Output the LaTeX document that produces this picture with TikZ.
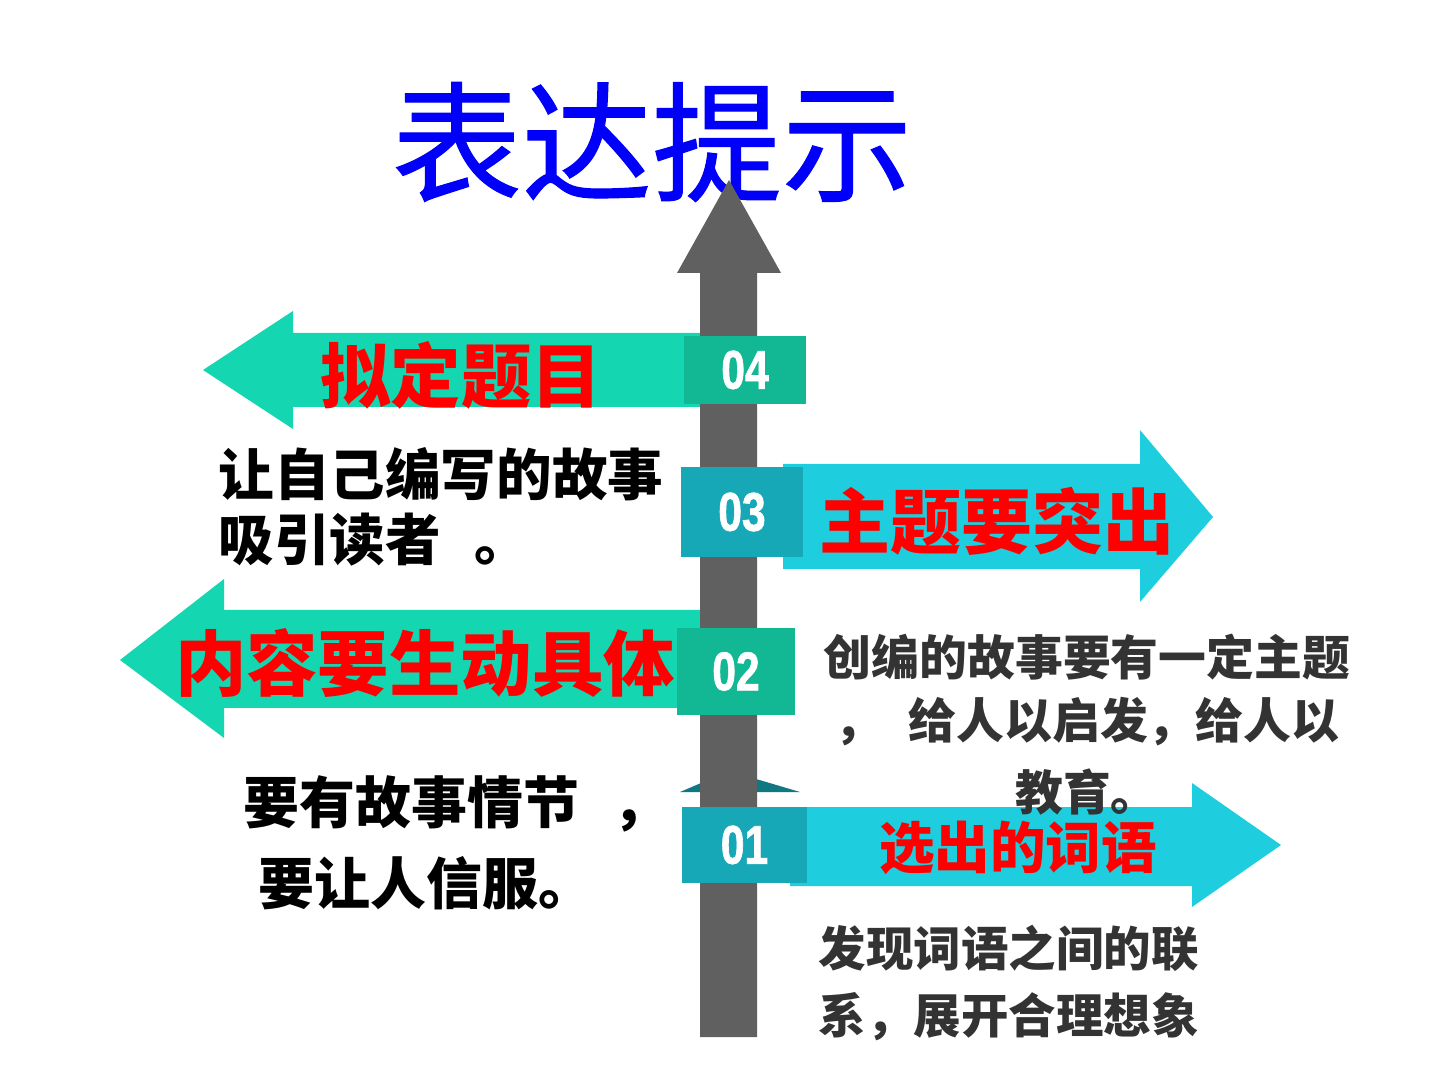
\documentclass[tikz,border=0pt]{standalone}
\usepackage{fontspec}
\newfontfamily\cjk{Noto Sans CJK SC}
\newfontfamily\cjktitle[FakeBold=0.8]{Noto Sans CJK SC}
\newfontfamily\numfont[FakeStretch=0.78,FakeBold=1.2]{Liberation Sans}
\definecolor{arrowgreen}{RGB}{20,214,176}
\definecolor{boxgreen}{RGB}{18,184,148}
\definecolor{arrowcyan}{RGB}{30,206,222}
\definecolor{boxcyan}{RGB}{23,168,184}
\definecolor{polegray}{RGB}{96,96,96}
\definecolor{darkteal}{RGB}{16,120,130}
\definecolor{titleblue}{RGB}{0,0,250}
\definecolor{headred}{RGB}{255,0,0}
\definecolor{textdark}{RGB}{51,51,51}
\tikzset{
  numbox/.style={inner sep=0pt, text=white, font=\numfont\bfseries\fontsize{15.5pt}{18pt}\selectfont},
  headtext/.style={inner sep=0pt, text=headred, font=\cjk\bfseries},
  bodytext/.style={inner sep=0pt, font=\cjk\bfseries},
}
\begin{document}
\begin{tikzpicture}[x=0.01cm,y=-0.01cm]
\useasboundingbox (0,0) rectangle (1440,1080);
% title
\node[inner sep=0pt, text=titleblue, font=\cjktitle\fontsize{37pt}{40pt}\selectfont] (title) at (652,142) {表达提示};
% arrows
\fill[arrowgreen] (203,370) -- (293,311) -- (293,333) -- (720,333) -- (720,407) -- (293,407) -- (293,429) -- cycle;
\fill[arrowgreen] (120,660) -- (224,579) -- (224,610) -- (720,610) -- (720,708) -- (224,708) -- (224,738) -- cycle;
\fill[arrowcyan] (783,464) -- (1140,464) -- (1140,430) -- (1213,517) -- (1140,602) -- (1140,569) -- (783,569) -- cycle;
\fill[arrowcyan] (790,807) -- (1192,807) -- (1192,783) -- (1281,845) -- (1192,907) -- (1192,886) -- (790,886) -- cycle;
\fill[darkteal] (680,792) -- (729,771) -- (800,792) -- cycle;
% pole
\fill[polegray] (700,273) -- (677,273) -- (729,180) -- (781,273) -- (757,273) -- (757,1037) -- (700,1037) -- cycle;
% number boxes
\node[numbox, fill=boxgreen, minimum width=1.22cm, minimum height=0.68cm] (b04) at (745,370) {04};
\node[numbox, fill=boxcyan, minimum width=1.22cm, minimum height=0.90cm] (b03) at (742,512) {03};
\node[numbox, fill=boxgreen, minimum width=1.18cm, minimum height=0.87cm] (b02) at (736,671.5) {02};
\node[numbox, fill=boxcyan, minimum width=1.25cm, minimum height=0.76cm] (b01) at (744.5,845) {01};
% headings
\node[headtext, font=\cjk\bfseries\fontsize{20pt}{24pt}\selectfont] (h04) at (461,375) {拟定题目};
\node[headtext, font=\cjk\bfseries\fontsize{20.2pt}{24pt}\selectfont] (h03) at (997,521) {主题要突出};
\node[headtext, font=\cjk\bfseries\fontsize{20.3pt}{24pt}\selectfont] (h02) at (425,663) {内容要生动具体};
\node[headtext, font=\cjk\bfseries\fontsize{15.8pt}{19pt}\selectfont] (h01) at (1018,848) {选出的词语};
% descriptions
\node[bodytext, anchor=west, font=\cjk\bfseries\fontsize{15.8pt}{19pt}\selectfont] (d04a) at (218,474) {让自己编写的故事};
\node[bodytext, anchor=west, font=\cjk\bfseries\fontsize{15.8pt}{19pt}\selectfont] (d04b) at (218,540) {吸引读者\hspace{0.6em}。};
\node[bodytext, text=textdark, font=\cjk\bfseries\fontsize{13.6pt}{16pt}\selectfont] (d03a) at (1087,657) {创编的故事要有一定主题};
\node[bodytext, text=textdark, font=\cjk\bfseries\fontsize{13.6pt}{16pt}\selectfont] (d03b) at (1087,722) {，\hspace{0.55em}给人以启发，给人以};
\node[bodytext, text=textdark, font=\cjk\bfseries\fontsize{13.6pt}{16pt}\selectfont] (d03c) at (1087,792) {教育。};
\node[bodytext, anchor=west, font=\cjk\bfseries\fontsize{15.9pt}{19pt}\selectfont] (d02a) at (243,804) {要有故事情节\hspace{0.6em}，};
\node[bodytext, anchor=west, font=\cjk\bfseries\fontsize{15.9pt}{19pt}\selectfont] (d02b) at (258,883) {要让人信服。};
\node[bodytext, text=textdark, anchor=west, font=\cjk\bfseries\fontsize{13.5pt}{16pt}\selectfont] (d01a) at (818,948) {发现词语之间的联};
\node[bodytext, text=textdark, anchor=west, font=\cjk\bfseries\fontsize{13.5pt}{16pt}\selectfont] (d01b) at (818,1017) {系，展开合理想象};
\end{tikzpicture}
\end{document}
